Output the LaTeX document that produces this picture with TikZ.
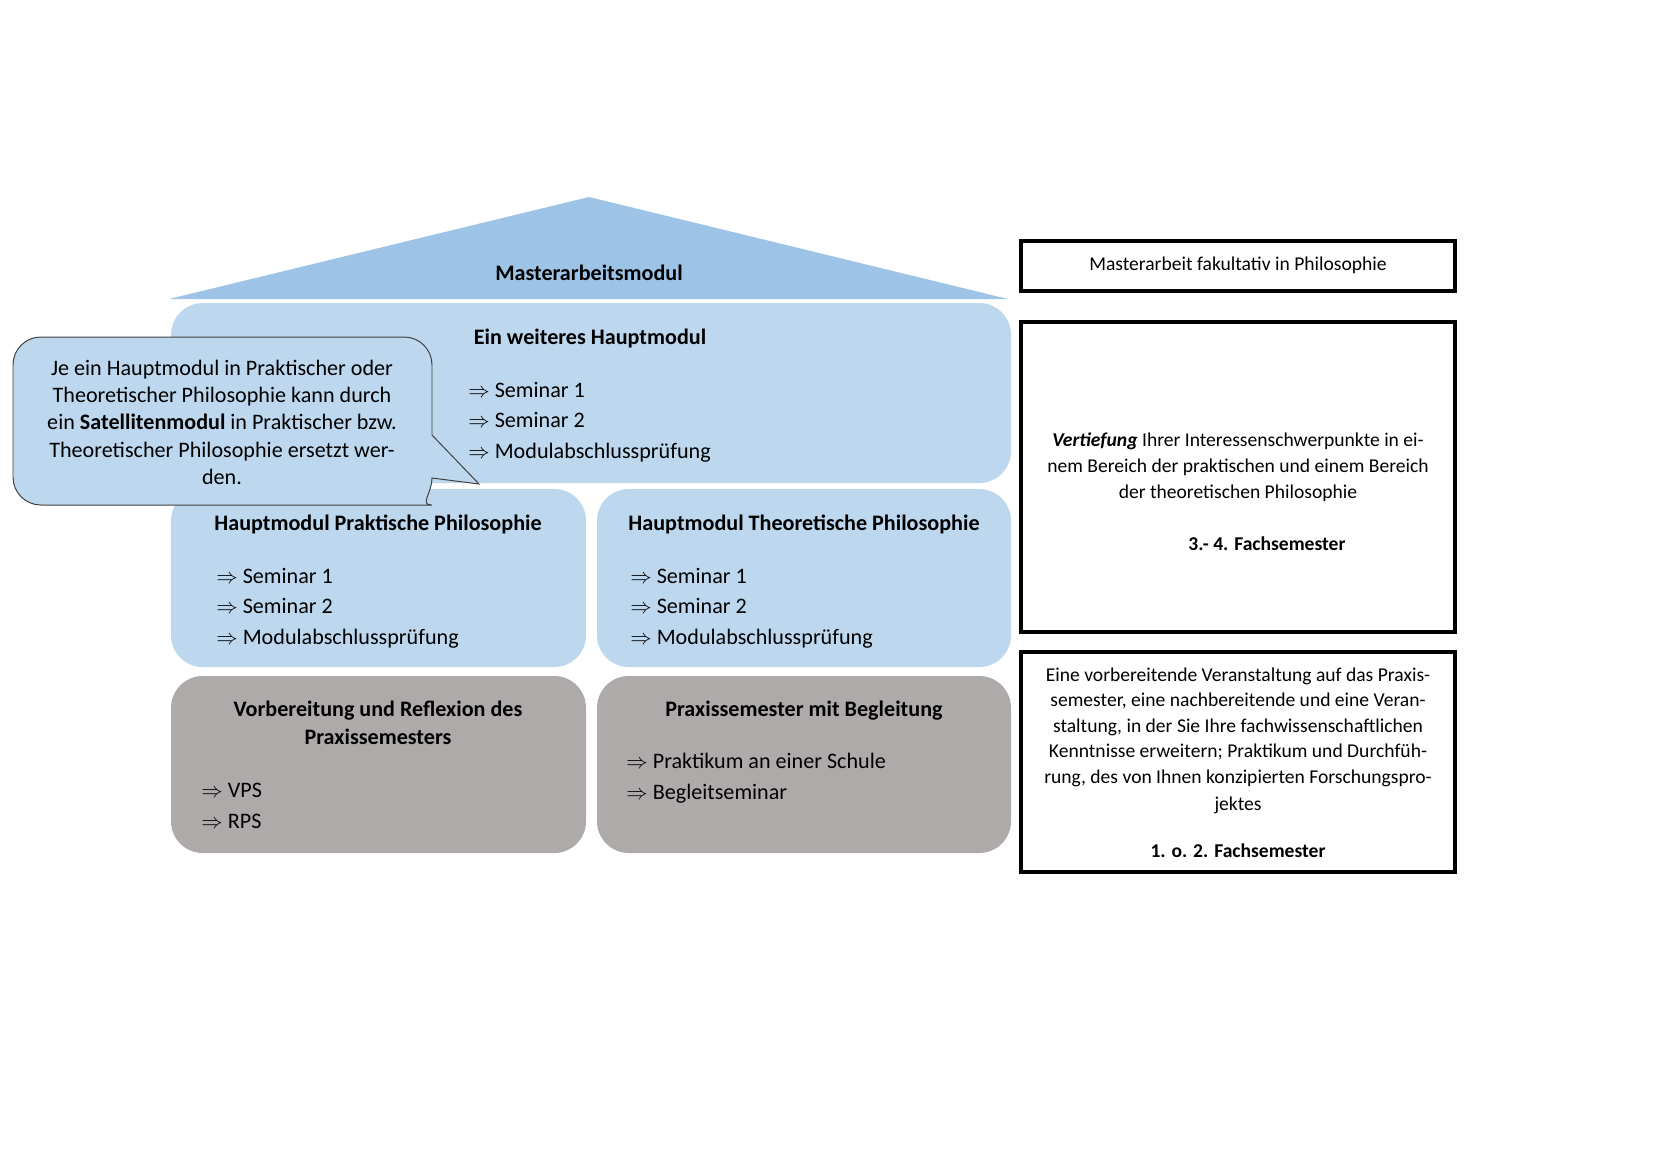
\documentclass[tikz,border=0pt]{standalone}
\usepackage{fontspec}
\setmainfont{Carlito}
\definecolor{roofblue}{HTML}{9DC3E6}
\definecolor{boxblue}{HTML}{BDD7EE}
\definecolor{boxgray}{HTML}{AEAAAA}
\tikzset{
  bluebox/.style={fill=boxblue, draw=none, rounded corners=5.7mm},
  graybox/.style={fill=boxgray, draw=none, rounded corners=5.7mm},
  framebox/.style={draw=black, line width=2pt, fill=white},
  calloutshape/.style={fill=boxblue, draw=black!75, line width=0.5pt},
  ln/.style={anchor=base, inner sep=0pt, font=\fontsize{11.3}{13}\selectfont},
  lnl/.style={anchor=base west, inner sep=0pt, font=\fontsize{11.3}{13}\selectfont},
  rln/.style={anchor=base, inner sep=0pt, font=\fontsize{10}{12}\selectfont},
}
\begin{document}
\begin{tikzpicture}[x=0.17956mm,y=-0.17956mm]
\useasboundingbox[fill=white] (0,0) rectangle (1654,1166);
% roof
\path[fill=roofblue] (169,299) -- (589,197) -- (1008,299) -- cycle;
\node[ln] (roof) at (589,280) {\bfseries Masterarbeitsmodul};
% blue boxes
\path[bluebox] (171,303) rectangle (1011,483);
\path[bluebox] (171,489) rectangle (586,667);
\path[bluebox] (597,489) rectangle (1011,667);
% gray boxes
\path[graybox] (171,676) rectangle (586,853);
\path[graybox] (597,676) rectangle (1011,853);
% top module
\node[ln] (hm) at (590,344) {\bfseries Ein weiteres Hauptmodul};
\node[lnl] (hm1) at (468,397) {$\Rightarrow$ Seminar 1};
\node[lnl] (hm2) at (468,427) {$\Rightarrow$ Seminar 2};
\node[lnl] (hm3) at (468,458) {$\Rightarrow$ Modulabschlussprüfung};
% praktische
\node[ln] (pp) at (378,530) {\bfseries Hauptmodul Praktische Philosophie};
\node[lnl] (pp1) at (216,583) {$\Rightarrow$ Seminar 1};
\node[lnl] (pp2) at (216,613) {$\Rightarrow$ Seminar 2};
\node[lnl] (pp3) at (216,644) {$\Rightarrow$ Modulabschlussprüfung};
% theoretische
\node[ln] (tp) at (804,530) {\bfseries Hauptmodul Theoretische Philosophie};
\node[lnl] (tp1) at (630,583) {$\Rightarrow$ Seminar 1};
\node[lnl] (tp2) at (630,613) {$\Rightarrow$ Seminar 2};
\node[lnl] (tp3) at (630,644) {$\Rightarrow$ Modulabschlussprüfung};
% vorbereitung
\node[ln] (vr) at (378,716) {\bfseries Vorbereitung und Reflexion des};
\node[ln] (vr0) at (378,744) {\bfseries Praxissemesters};
\node[lnl] (vr1) at (201,797) {$\Rightarrow$ VPS};
\node[lnl] (vr2) at (201,828) {$\Rightarrow$ RPS};
% praxissemester
\node[ln] (ps) at (804,716) {\bfseries Praxissemester mit Begleitung};
\node[lnl] (ps1) at (626,768) {$\Rightarrow$ Praktikum an einer Schule};
\node[lnl] (ps2) at (626,799) {$\Rightarrow$ Begleitseminar};
% callout
\draw[calloutshape, rounded corners=5mm] (432,420) -- (432,337) -- (13,337) -- (13,505) -- (404,505) [sharp corners] to[out=0,in=-90] (432,478) -- (479,484) -- (432,435) -- cycle;
\node[ln] (c1) at (222,375) {Je ein Hauptmodul in Praktischer oder};
\node[ln] (c2) at (222,402) {Theoretischer Philosophie kann durch};
\node[ln] (c3) at (222,429) {ein \textbf{Satellitenmodul} in Praktischer bzw.};
\node[ln] (c4) at (222,457) {Theoretischer Philosophie ersetzt wer-};
\node[ln] (c5) at (222,484) {den.};
% right boxes
\path[framebox] (1021,241) rectangle (1455,291);
\node[rln] (r1) at (1238,270) {Masterarbeit fakultativ in Philosophie};
\path[framebox] (1021,322) rectangle (1455,632);
\node[rln] (r2a) at (1238,446) {\textbf{\textit{Vertiefung}} Ihrer Interessenschwerpunkte in ei-};
\node[rln] (r2b) at (1238,472) {nem Bereich der praktischen und einem Bereich};
\node[rln] (r2c) at (1238,498) {der theoretischen Philosophie};
\node[rln] (r2d) at (1267,550) {\bfseries 3.- 4. Fachsemester};
\path[framebox] (1021,652) rectangle (1455,872);
\node[rln] (r3a) at (1238,681) {Eine vorbereitende Veranstaltung auf das Praxis-};
\node[rln] (r3b) at (1238,706) {semester, eine nachbereitende und eine Veran-};
\node[rln] (r3c) at (1238,732) {staltung, in der Sie Ihre fachwissenschaftlichen};
\node[rln] (r3d) at (1238,757) {Kenntnisse erweitern; Praktikum und Durchfüh-};
\node[rln] (r3e) at (1238,783) {rung, des von Ihnen konzipierten Forschungspro-};
\node[rln] (r3f) at (1238,810) {jektes};
\node[rln] (r3g) at (1238,857) {\bfseries 1. o. 2. Fachsemester};
\end{tikzpicture}
\end{document}
